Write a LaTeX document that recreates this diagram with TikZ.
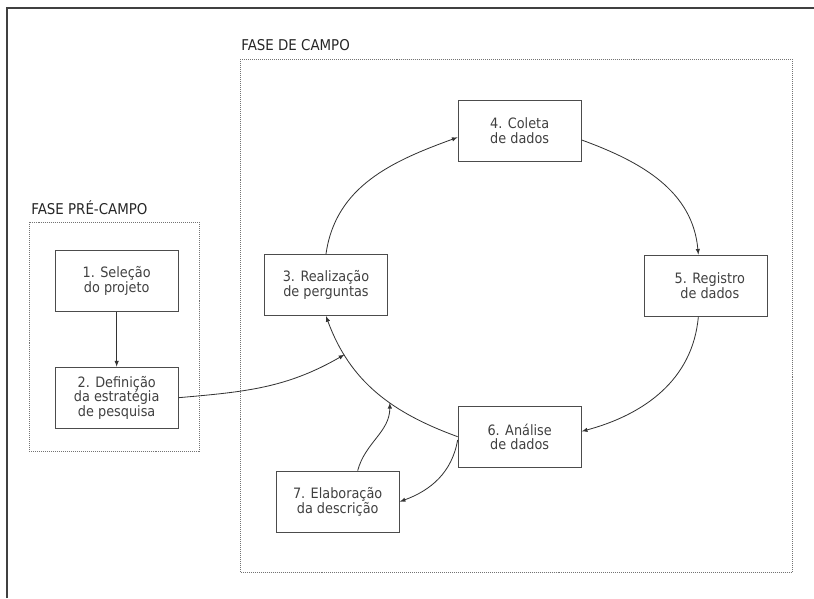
\documentclass[tikz,border=0pt]{standalone}
\usepackage{fontspec}
\setmainfont{DejaVu Sans Condensed}

\begin{document}
\begin{tikzpicture}[thick,>=latex]
	%
	% `etapa' is used for the seven steps.
	% `fase' is used for the dotted boxes round each phase.
	% `seta' is used for all the arrows.
	\tikzstyle{etapa} = [draw=black!70,line width=0.9pt,minimum width=3.69cm,minimum height=1.83cm,align=center,text=black!75,font=\fontsize{12.2}{12.4}\selectfont]
	\tikzstyle{fase} = [draw=black!55,densely dotted,line width=0.7pt]
	\tikzstyle{titulo} = [anchor=west,inner sep=0pt,text=black!85,font=\fontsize{12.7}{14}\selectfont]
	\tikzstyle{seta} = [->,draw=black!80,line width=0.7pt]
	%
	\useasboundingbox (0,0) rectangle (24.42,-17.94);
	%
	% Frame
	\draw[black!75,line width=1.2pt] (0.21,-17.94) -- (0.21,-0.24) -- (24.42,-0.24);
	%
	% Phases
	\draw[fase] (0.87,-6.66) rectangle (5.97,-13.53);
	\draw[fase] (7.20,-1.77) rectangle (23.76,-17.16);
	\node[titulo] (pre) at (0.93,-6.24) {FASE PRÉ-CAMPO};
	\node[titulo] (campo) at (7.23,-1.35) {FASE DE CAMPO};
	%
	% Steps
	\node[etapa] (et1) at (3.50,-8.43) {1. Seleção\\do projeto};
	\node[etapa] (et2) at (3.50,-11.93) {2. Definição\\da estratégia\\de pesquisa};
	\node[etapa] (et3) at (9.78,-8.55) {3. Realização\\de perguntas};
	\node[etapa] (et4) at (15.59,-3.92) {4. Coleta\\de dados};
	\node[etapa] (et5) at (21.17,-8.57) {\hspace{0.25cm}5. Registro\\\hspace{0.25cm}de dados};
	\node[etapa] (et6) at (15.59,-13.10) {6. Análise\\de dados};
	\node[etapa] (et7) at (10.13,-15.05) {7. Elaboração\\da descrição};
	%
	% Cycle
	\draw[seta] (et1) -- (et2);
	\draw[seta] (et3.north) to[out=82,in=200] ([yshift=-0.2cm]et4.west);
	\draw[seta] ([yshift=-0.28cm]et4.east) to[out=-20,in=95] ([xshift=-0.22cm]et5.north);
	\draw[seta] ([xshift=-0.22cm]et5.south) to[out=-95,in=15] ([yshift=0.16cm]et6.east);
	\draw[seta] (et6.west) to[out=160,in=-70] coordinate[pos=0.4] (m7) coordinate[pos=0.78] (m2) (et3.south);
	%
	% Into the cycle
	\draw[seta] (et2.east) to[out=5,in=210] (m2);
	\draw[seta] ([yshift=-0.1cm]et6.west) to[out=-100,in=20] (et7.east);
	\draw[seta] ([xshift=0.6cm]et7.north) to[out=75,in=-90] (m7);
	%
\end{tikzpicture}
\end{document}
